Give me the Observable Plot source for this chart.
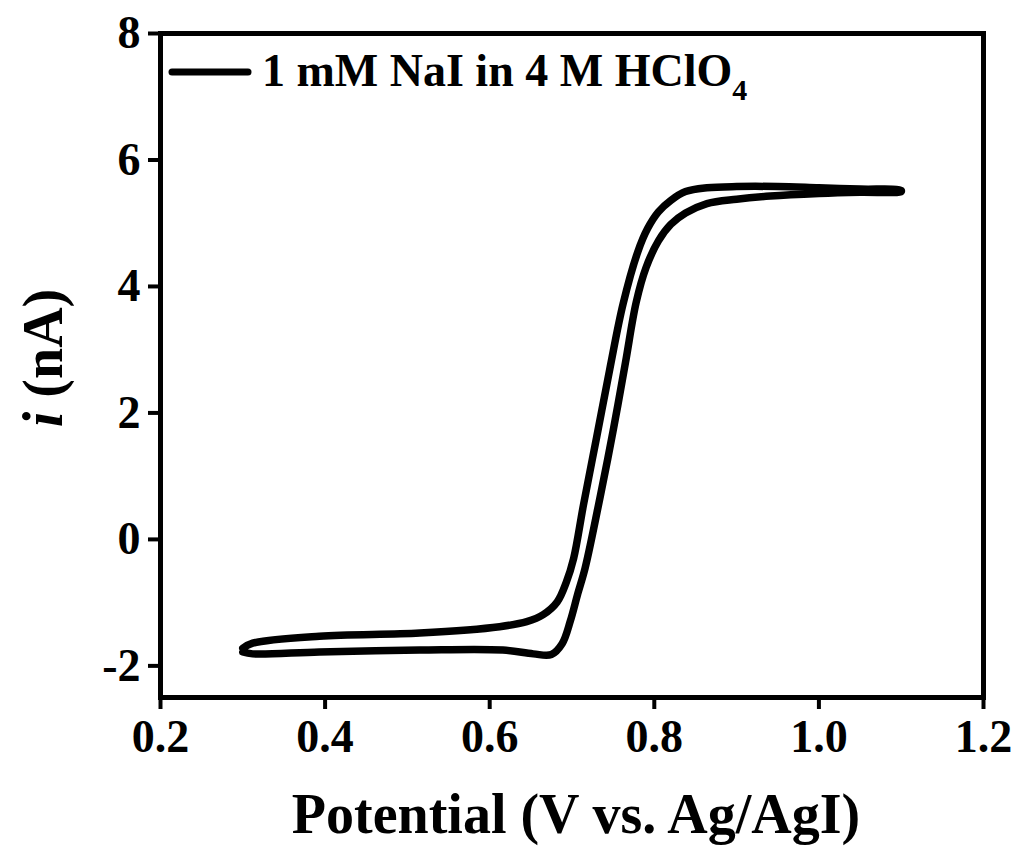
<!DOCTYPE html>
<html>
<head>
<meta charset="utf-8">
<script src="https://cdn.jsdelivr.net/npm/d3@7"></script>
<script src="https://cdn.jsdelivr.net/npm/@observablehq/plot@0.6"></script>
<style>
  html, body { margin: 0; padding: 0; background: #fff; }
  #chart svg { display: block; }
</style>
</head>
<body>
<div id="chart"></div>
<script>
// Forward (anodic) scan: 0.3 V -> 1.1 V
const forwardV = [0.300, 0.312, 0.393, 0.515, 0.616, 0.653, 0.675, 0.688, 0.698, 0.707, 0.716, 0.734, 0.750, 0.765, 0.778, 0.790, 0.805, 0.820, 0.838, 0.864, 0.900, 0.941, 1.000, 1.050, 1.100];
const forwardI = [-1.78, -1.81, -1.78, -1.75, -1.75, -1.81, -1.82, -1.65, -1.29, -0.86, -0.45, 0.66, 1.72, 2.80, 3.75, 4.30, 4.72, 4.98, 5.16, 5.31, 5.38, 5.43, 5.47, 5.49, 5.50];
// Reverse scan: 1.1 V -> 0.3 V
const reverseV = [1.100, 1.050, 1.000, 0.950, 0.900, 0.864, 0.838, 0.820, 0.805, 0.792, 0.780, 0.762, 0.746, 0.730, 0.714, 0.702, 0.693, 0.682, 0.665, 0.645, 0.612, 0.515, 0.393, 0.312, 0.300];
const reverseI = [5.52, 5.54, 5.56, 5.58, 5.58, 5.56, 5.50, 5.36, 5.18, 4.92, 4.55, 3.72, 2.70, 1.62, 0.55, -0.30, -0.68, -0.99, -1.19, -1.30, -1.38, -1.48, -1.53, -1.64, -1.72];

const xTicks = [0.2, 0.4, 0.6, 0.8, 1.0, 1.2];
const yTicks = [-2, 0, 2, 4, 6, 8];
const legendLabel = "1 mM NaI in 4 M HClO";
const legendSub = "4";
const xLabel = "Potential (V vs. Ag/AgI)";

const data = [
  ...forwardV.map((v, k) => ({v, i: forwardI[k]})),
  ...reverseV.map((v, k) => ({v, i: reverseI[k]}))
];

const FONT = "'Liberation Serif', 'Times New Roman', serif";

const plot = Plot.plot({
  width: 1016,
  height: 850,
  marginLeft: 160,
  marginRight: 33,
  marginTop: 33,
  marginBottom: 153,
  style: {fontFamily: FONT, background: "#fff", color: "#000"},
  x: {domain: [0.2, 1.2]},
  y: {domain: [-2.5, 8]},
  marks: [
    Plot.axisX({ticks: xTicks, tickFormat: d3.format(".1f"), tickSize: 12, tickPadding: 10, strokeWidth: 4, fontSize: 46, fontWeight: "bold", label: null}),
    Plot.axisY({ticks: yTicks, tickFormat: d => (d < 0 ? "-" + Math.abs(d) : String(d)), tickSize: 12, tickPadding: 8, strokeWidth: 4, fontSize: 46, fontWeight: "bold", label: null}),
    Plot.line(data, {x: "v", y: "i", curve: "catmull-rom", stroke: "black", strokeWidth: 7.5, strokeLinejoin: "round", strokeLinecap: "round"}),
    Plot.frame({stroke: "black", strokeWidth: 5})
  ]
});

document.getElementById("chart").appendChild(plot);

const svg = d3.select(plot);
// Legend
svg.append("line")
  .attr("x1", 172).attr("x2", 248).attr("y1", 72).attr("y2", 72)
  .attr("stroke", "black").attr("stroke-width", 7).attr("stroke-linecap", "round");
const lt = svg.append("text")
  .attr("x", 262).attr("y", 86)
  .attr("text-anchor", "start")
  .attr("font-family", FONT).attr("font-weight", "bold").attr("font-size", 46)
  .attr("fill", "black");
lt.append("tspan").text(legendLabel);
lt.append("tspan").attr("dy", 14).attr("font-size", 30).text(legendSub);

// X axis label
svg.append("text")
  .attr("x", 576).attr("y", 833)
  .attr("text-anchor", "middle")
  .attr("font-family", FONT).attr("font-weight", "bold").attr("font-size", 56)
  .attr("fill", "black")
  .text(xLabel);

// Y axis label
const yl = svg.append("text")
  .attr("transform", "translate(62,358) rotate(-90)")
  .attr("text-anchor", "middle")
  .attr("font-family", FONT).attr("font-weight", "bold").attr("font-size", 56)
  .attr("fill", "black");
yl.append("tspan").attr("font-style", "italic").text("i");
yl.append("tspan").text(" (nA)");
</script>
</body>
</html>
